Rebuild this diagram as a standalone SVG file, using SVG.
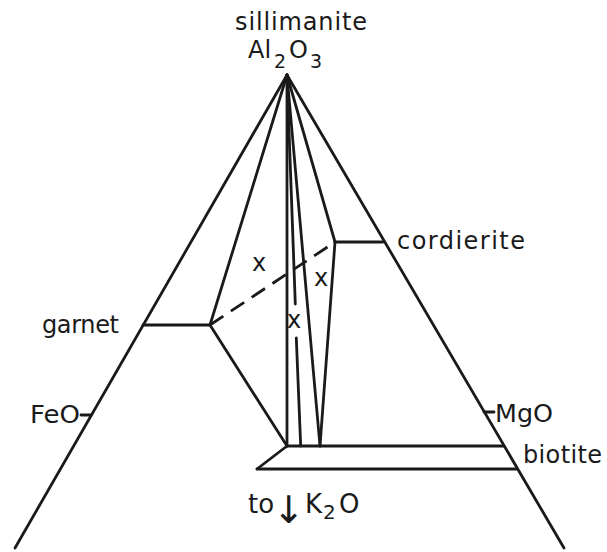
<svg xmlns="http://www.w3.org/2000/svg" width="607" height="552" viewBox="0 0 607 552">
<style>
.ln{stroke:#1a1a1a;stroke-width:2.8;fill:none;stroke-linecap:round;stroke-linejoin:round}
.ds{stroke-dasharray:16 9;stroke-linecap:butt}
text{font-family:"DejaVu Sans","Liberation Sans",sans-serif;fill:#1a1a1a;font-size:24px}
.sub{font-size:19px}
.big{font-size:26px}
</style>
<rect width="607" height="552" fill="#fff"/>
<g id="connectors">
<line class="ln" x1="287" y1="75" x2="15" y2="548"/>
<line class="ln" x1="287" y1="75" x2="564" y2="548"/>
<line class="ln" x1="143" y1="325" x2="210" y2="325"/>
<line class="ln" x1="335" y1="242" x2="383" y2="242"/>
<line class="ln" x1="287" y1="75" x2="210" y2="325"/>
<line class="ln" x1="287" y1="75" x2="335" y2="242"/>
<line class="ln" x1="210" y1="325" x2="287" y2="446"/>
<line class="ln" x1="335" y1="242" x2="320" y2="446"/>
<line class="ln ds" x1="210" y1="325" x2="335" y2="242"/>
<line class="ln" x1="287" y1="75" x2="287" y2="446"/>
<line class="ln" x1="287" y1="75" x2="295.3" y2="304"/>
<line class="ln" x1="296.3" y1="338" x2="300.7" y2="446"/>
<line class="ln" x1="287" y1="75" x2="320" y2="446"/>
<line class="ln" x1="287" y1="446" x2="504" y2="446"/>
<line class="ln" x1="287" y1="446" x2="257" y2="469"/>
<line class="ln" x1="257" y1="469" x2="517" y2="469"/>
<line class="ln" x1="81" y1="415" x2="91" y2="415"/>
<line class="ln" x1="484" y1="412" x2="494" y2="412"/>
</g>
<g id="sillimanite">
<text x="235" y="30" textLength="132" lengthAdjust="spacing">sillimanite</text>
<text x="248" y="58">Al<tspan class="sub" x="274" y="68">2</tspan><tspan x="289" y="58">O</tspan><tspan class="sub" x="310" y="68">3</tspan></text>
</g>
<g id="cordierite"><text x="397" y="249" textLength="128" lengthAdjust="spacing">cordierite</text></g>
<g id="garnet"><text x="42" y="333" textLength="77" lengthAdjust="spacing">garnet</text></g>
<g id="feo"><text x="30" y="423" font-size="25" textLength="50" lengthAdjust="spacingAndGlyphs">FeO</text></g>
<g id="mgo"><text x="495" y="422" font-size="25" textLength="58" lengthAdjust="spacingAndGlyphs">MgO</text></g>
<g id="biotite"><text x="523" y="463" textLength="79" lengthAdjust="spacing">biotite</text></g>
<g id="k2o">
<text x="248" y="513" class="big">to<tspan x="273" y="523" font-size="38">↓</tspan><tspan x="305" y="513">K</tspan><tspan x="323" y="519" font-size="20">2</tspan><tspan x="339" y="513">O</tspan></text>
</g>
<g id="x-labels">
<text x="259" y="271" text-anchor="middle">x</text>
<text x="321" y="286" text-anchor="middle">x</text>
<text x="294" y="328" text-anchor="middle">x</text>
</g>
</svg>
